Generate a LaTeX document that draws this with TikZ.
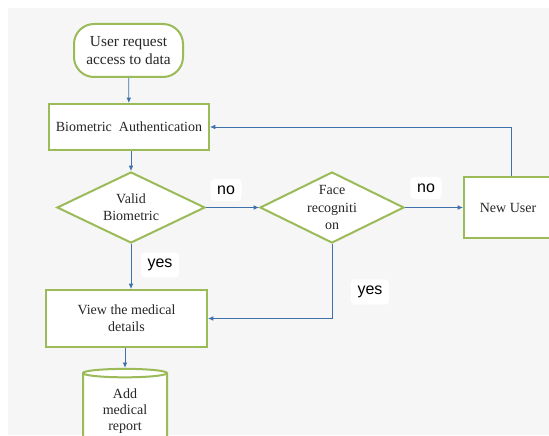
\documentclass[tikz,border=0pt]{standalone}
\usepackage{fontspec}
\setmainfont{Liberation Serif}
\newfontfamily\labelfont{Liberation Sans}
\usepackage{tikz}
\usetikzlibrary{shapes.geometric,arrows.meta}
\definecolor{boxGreen}{RGB}{155,187,89}
\definecolor{lineBlue}{RGB}{62,112,172}
\definecolor{backGray}{RGB}{246,246,246}
\begin{document}
\begin{tikzpicture}[x = 0.75pt, y = -0.75pt]
\tikzstyle{boxStyle} = [shape = rectangle, draw = boxGreen, line width = 1.5pt, fill = white, align = center, font = \fontsize{10.5}{13}\selectfont, text = black!85]
\tikzstyle{decisionStyle} = [shape = diamond, aspect = 2, draw = boxGreen, line width = 1.5pt, fill = white, align = center, inner sep = -4pt, font = \fontsize{10.5}{13}\selectfont, text = black!85]
\tikzstyle{arrowStyle} = [draw = lineBlue, line width = 0.6pt, -{Latex[length = 4pt, width = 3.5pt]}]
\tikzstyle{answerStyle} = [fill = white, rounded corners = 3pt, inner sep = 5pt, font = \labelfont\fontsize{12}{14}\selectfont]
\useasboundingbox (0,0) rectangle (549,435);
\clip (0,0) rectangle (549,435);
\fill [backGray] (8,8) rectangle (549,435);
% nodes
\node[boxStyle, rounded corners = 15pt, minimum width = 81.75pt, minimum height = 39.75pt, font = \fontsize{11.5}{14}\selectfont] (request) at (128.5,50.5) {User request\\access to data};
\node[boxStyle, minimum width = 120pt, minimum height = 34.5pt] (bioAuth) at (129,127) {Biometric\ \ Authentication};
\node[decisionStyle, minimum width = 111pt, minimum height = 53.25pt] (validBio) at (131,207.5) {Valid\\Biometric};
\node[decisionStyle, minimum width = 108pt, minimum height = 53.25pt] (faceRec) at (332,207.5) {Face\\recogniti\\on};
\node[boxStyle, minimum width = 66pt, minimum height = 45.75pt] (newUser) at (508,207.5) {New User};
\node[boxStyle, minimum width = 120.75pt, minimum height = 42.75pt] (viewDetails) at (126.5,318.5) {View the medical\\details};
\node[shape = cylinder, shape border rotate = 90, aspect = 0.18, draw = boxGreen, line width = 1.5pt, fill = white, align = center, minimum width = 63pt, minimum height = 58.5pt, inner sep = 1pt, font = \fontsize{10.5}{12}\selectfont, text = black!85] (addReport) at (125,411) {Add\\medical\\report};
% answers
\node[answerStyle] (noOne) at (226,190) {no};
\node[answerStyle] (noTwo) at (426,188) {no};
\node[answerStyle] (yesOne) at (160,265) {yes};
\node[answerStyle] (yesTwo) at (370,292) {yes};
% connectors
\draw[arrowStyle] (request) -- (bioAuth);
\draw[arrowStyle] (bioAuth.south -| validBio.north) -- (validBio);
\draw[arrowStyle] (validBio) -- (viewDetails.north -| validBio.south);
\draw[arrowStyle] (validBio) -- (faceRec);
\draw[arrowStyle] (faceRec) -- (newUser);
\draw[arrowStyle] (newUser.north) ++(3,0) |- (bioAuth.east);
\draw[arrowStyle] (faceRec.south) |- (viewDetails.east);
\draw[arrowStyle] (viewDetails.south -| addReport.north) -- (addReport.north);
\end{tikzpicture}
\end{document}
